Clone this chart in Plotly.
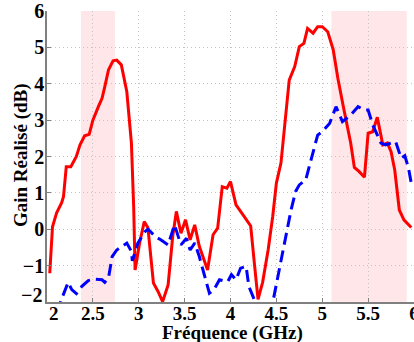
import plotly.graph_objects as go

# Realised gain, red solid curve
freq_red = [2.03, 2.06, 2.105, 2.16, 2.18, 2.21, 2.26, 2.32, 2.36, 2.41, 2.46, 2.50, 2.56, 2.60,
            2.63, 2.67, 2.72, 2.76, 2.81, 2.87, 2.92, 2.945, 2.96, 3.01, 3.06, 3.10, 3.16, 3.21,
            3.26, 3.32, 3.37, 3.41, 3.46, 3.51, 3.56, 3.61, 3.66, 3.71, 3.75, 3.81, 3.86, 3.91,
            3.96, 4.00, 4.06, 4.15, 4.22, 4.26, 4.30, 4.35, 4.41, 4.46, 4.50, 4.55, 4.59, 4.64,
            4.70, 4.75, 4.80, 4.84, 4.90, 4.95, 5.00, 5.06, 5.12, 5.17, 5.23, 5.28, 5.31, 5.35,
            5.40, 5.46, 5.50, 5.55, 5.60, 5.66, 5.71, 5.75, 5.79, 5.84, 5.89, 5.97]
gain_red = [-1.21, 0.07, 0.45, 0.73, 0.90, 1.72, 1.72, 2.00, 2.32, 2.57, 2.61, 3.00, 3.37, 3.60,
            3.92, 4.38, 4.63, 4.65, 4.52, 3.78, 2.37, 0.60, -1.12, -0.37, 0.21, 0.04, -1.48, -1.71,
            -1.99, -1.53, -0.20, 0.49, -0.11, 0.26, -0.29, 0.12, -0.47, -0.84, -1.12, -0.15, 0.03, 1.17,
            1.13, 1.31, 0.67, 0.35, 0.09, -0.93, -1.93, -1.46, -0.57, 0.35, 1.27, 1.82, 2.82, 4.10,
            4.47, 5.02, 5.11, 5.52, 5.39, 5.57, 5.57, 5.43, 4.93, 4.15, 3.37, 2.70, 2.37, 1.70,
            1.59, 1.43, 2.64, 2.68, 3.08, 2.32, 2.37, 2.13, 1.63, 0.53, 0.26, 0.05]

# Realised gain, blue dashed curve
freq_blue = [2.12, 2.15, 2.23, 2.27, 2.32, 2.38, 2.45, 2.52, 2.60, 2.63, 2.67, 2.71, 2.76, 2.87,
             2.92, 2.93, 2.99, 3.07, 3.10, 3.19, 3.24, 3.32, 3.39, 3.46, 3.52, 3.56, 3.61, 3.66,
             3.71, 3.77, 3.82, 3.88, 3.97, 4.01, 4.06, 4.11, 4.17, 4.20, 4.26, 4.35, 4.46, 4.53,
             4.60, 4.66, 4.71, 4.75, 4.82, 4.88, 4.95, 5.00, 5.08, 5.15, 5.22, 5.31, 5.39, 5.46,
             5.50, 5.55, 5.64, 5.69, 5.75, 5.80, 5.86, 5.90, 5.94, 5.97]
gain_blue = [-2.3, -1.98, -1.46, -1.66, -1.77, -1.57, -1.41, -1.37, -1.39, -1.46, -1.34, -0.75, -0.57, -0.38,
             -0.61, -0.87, -0.38, -0.06, 0.00, -0.22, -0.29, -0.43, 0.12, -0.43, -0.25, -0.57, -0.38, -0.75,
             -1.21, -1.76, -1.66, -1.39, -1.44, -1.25, -1.39, -1.07, -1.02, -1.57, -1.94, -2.4, -2.02, -1.12,
             -0.20, 0.53, 1.04, 1.22, 1.36, 1.91, 2.59, 2.68, 2.91, 3.37, 2.96, 3.14, 3.37, 3.28,
             3.28, 2.87, 2.37, 2.32, 2.37, 2.41, 1.95, 2.02, 1.68, 1.27]

# Shaded frequency bands (GHz)
band_start = [2.37, 5.10]
band_end = [2.74, 5.92]

x_ticks = [2, 2.5, 3, 3.5, 4, 4.5, 5, 5.5, 6]
x_tick_text = ["2", "2.5", "3", "3.5", "4", "4.5", "5", "5.5", "6"]
y_ticks = [-2, -1, 0, 1, 2, 3, 4, 5, 6]
y_tick_text = ["−2", "−1", "0", "1", "2", "3", "4", "5", "6"]
x_title = "Fréquence (GHz)"
y_title = "Gain Réalisé (dB)"

FONT = "Liberation Serif"
L, R, T, B = 47, 0, 11, 40
W, H = 414, 342
PW, PH = W - L - R, H - T - B

fig = go.Figure()
for x0, x1 in zip(band_start, band_end):
    fig.add_shape(type="rect", xref="x", yref="y", x0=x0, x1=x1, y0=-2, y1=6,
                  fillcolor="#ffe6e8", line=dict(width=0), layer="below")

fig.add_trace(go.Scatter(x=freq_red, y=gain_red, mode="lines",
                         line=dict(color="#ff0000", width=3), showlegend=False))
fig.add_trace(go.Scatter(x=freq_blue, y=gain_blue, mode="lines",
                         line=dict(color="#0000ff", width=3, dash="12px,6px"), showlegend=False))

fig.add_annotation(text=f"<b>{x_title}</b>", xref="paper", yref="paper",
                   x=(232 - L) / PW, y=-(333 - (T + PH)) / PH, xanchor="center", yanchor="middle",
                   showarrow=False, font=dict(family=FONT, size=19, color="black"))
fig.add_annotation(text=f"<b>{y_title}</b>", xref="paper", yref="paper",
                   x=-(L - 21) / PW, y=(T + PH - 155) / PH, xanchor="center", yanchor="middle",
                   textangle=-90, showarrow=False, font=dict(family=FONT, size=19, color="black"))

# Corner tick labels, nudged apart as in the reference
fig.add_annotation(text=f"<b>{x_tick_text[0]}</b>", xref="x", yref="paper", x=x_ticks[0], y=0,
                   xshift=7, yshift=-11, xanchor="center", yanchor="middle", showarrow=False,
                   font=dict(family=FONT, size=19, color="black"))
fig.add_annotation(text=f"<b>{y_tick_text[0]}</b>", xref="paper", yref="y", x=0, y=y_ticks[0],
                   xshift=-3, yshift=7, xanchor="right", yanchor="middle", showarrow=False,
                   font=dict(family=FONT, size=20, color="black"))

fig.update_layout(
    width=W, height=H,
    margin=dict(l=L, r=R, t=T, b=B, autoexpand=False),
    paper_bgcolor="white", plot_bgcolor="rgba(0,0,0,0)",
    font=dict(family=FONT, color="black", size=15),
)
fig.update_xaxes(
    range=[2, 6], tickvals=x_ticks, ticktext=[""] + x_tick_text[1:],
    tickfont=dict(family=FONT, size=19, weight="bold"), ticklabeloverflow="allow",
    ticklabelstandoff=-7,
    showgrid=True, gridcolor="#c4c4c4", griddash="1px,3px", gridwidth=1,
    showline=True, linecolor="#808080", linewidth=1.5,
    ticks="inside", ticklen=4, tickcolor="#808080", zeroline=False, automargin=False,
)
fig.update_yaxes(
    range=[-2, 6], tickvals=y_ticks, ticktext=[""] + y_tick_text[1:],
    tickfont=dict(family=FONT, size=20, weight="bold"), ticklabeloverflow="allow",
    ticklabelstandoff=-3,
    showgrid=True, gridcolor="#c4c4c4", griddash="1px,3px", gridwidth=1,
    showline=True, linecolor="#808080", linewidth=1.5,
    ticks="inside", ticklen=4, tickcolor="#808080", zeroline=False, automargin=False,
)

fig.write_html("out.html", config={"displayModeBar": False},
               post_script="document.body.style.margin='0';document.body.style.overflow='hidden';")
